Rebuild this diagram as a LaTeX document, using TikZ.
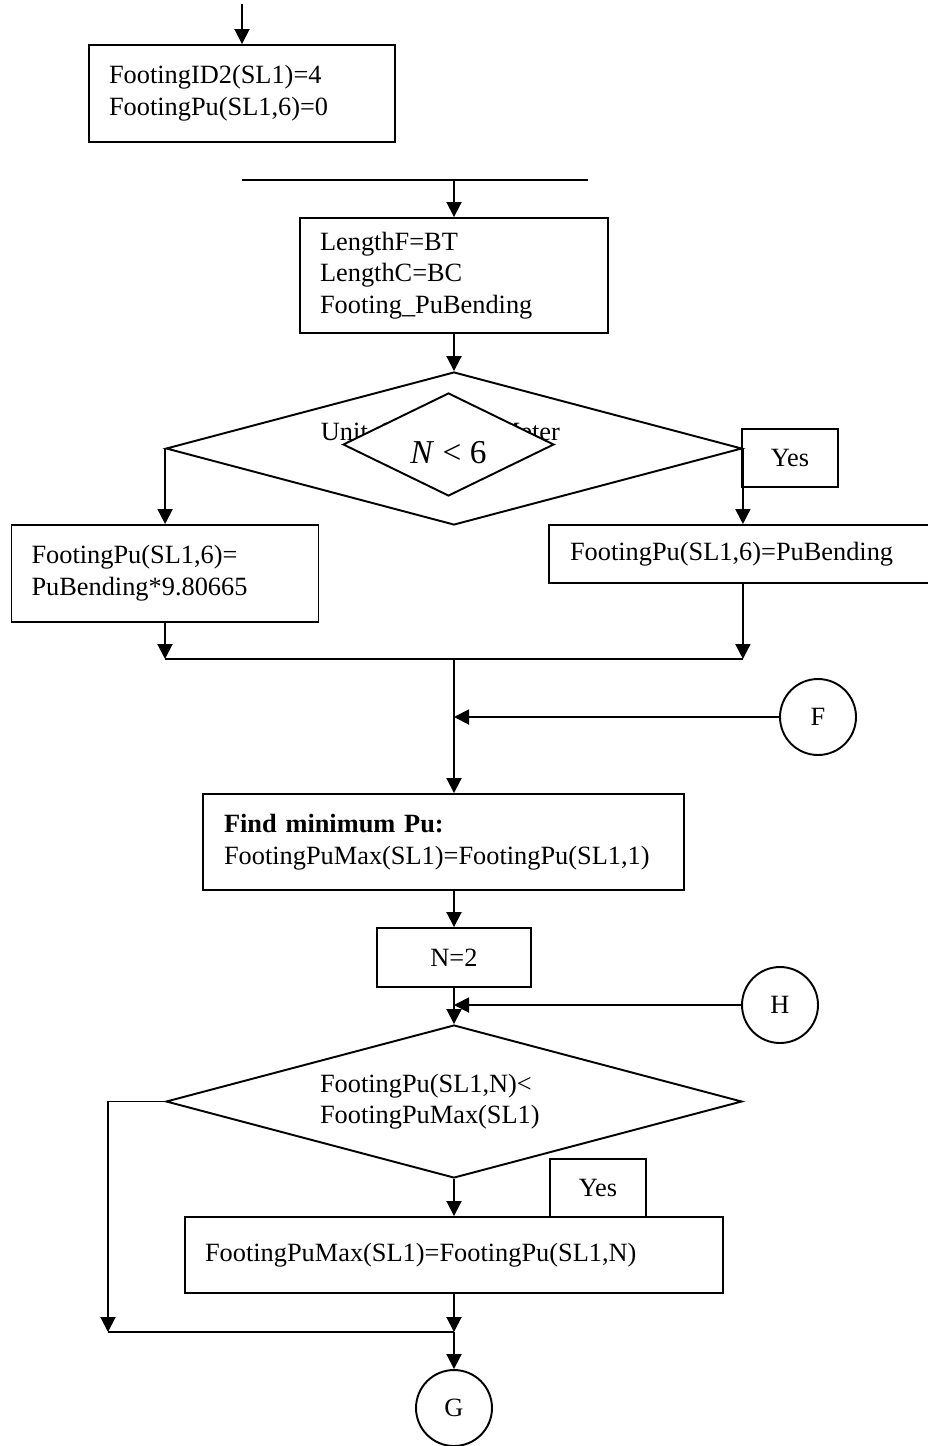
\documentclass[tikz,border=0pt]{standalone}
\usepackage{fontspec}
\setmainfont{Liberation Serif}
\usetikzlibrary{shapes.geometric,arrows.meta}

\begin{document}
\begin{tikzpicture}[x=0.02cm, y=-0.02cm, line width=1.1pt,
    every node/.style={font=\fontsize{15}{18}\selectfont},
    caja/.style={draw, rectangle, align=left, inner xsep=0.4cm},
    decision/.style={draw, diamond, inner sep=0pt, aspect=3.76,
        minimum width=11.52cm, minimum height=3.06cm},
    conector/.style={draw, circle, minimum size=1.52cm, inner sep=0pt},
    flecha/.style={-{Triangle[length=0.3cm, width=0.3cm]}}]
    \useasboundingbox (0,0) rectangle (928,1446);

    % Entrada y primera caja
    \coordinate (entrada) at (242,4);
    \node[caja, text width=5.32cm, minimum height=1.94cm] (ident) at (242,93.5) {FootingID2(SL1)=4\\FootingPu(SL1,6)=0};

    % Linea de union y longitudes
    \coordinate (unionI) at (242,180);
    \coordinate (unionD) at (588,180);
    \node[caja, text width=5.36cm, minimum height=2.3cm] (longs) at (454,275.5) {LengthF=BT\\LengthC=BC\\Footing\_PuBending};

    % Decision de unidades (texto tapado por el rombo pequeno)
    \node[decision] (unidad) at (454,448.5) {};
    \node[anchor=base west, inner sep=0pt] (unidadTxt) at (320,440) {\makebox[4.78cm][s]{Unit System = Meter}};
    \node[draw, diamond, fill=white, inner sep=0pt, aspect=2, minimum width=4.22cm, minimum height=2.06cm,
        text height=22pt, text depth=0pt, font=\fontsize{19}{22}\selectfont] (ncond) at (448.5,444.5) {\textit{N} < 6};
    \node[caja, align=center, inner xsep=0pt, minimum width=1.92cm, minimum height=1.16cm] (si1) at (790,458) {Yes};

    % Ramas
    \node[caja, text width=5.34cm, minimum height=1.94cm] (puSI) at (165,573.5) {FootingPu(SL1,6)=\\PuBending*9.80665};
    \node[caja, text width=7.16cm, inner xsep=0.42cm, minimum height=1.16cm] (puBend) at (749,554) {FootingPu(SL1,6)=PuBending};

    % Conectores F, H y G
    \node[conector] (conF) at (818,717) {F};
    \node[conector] (conH) at (780,1005) {H};
    \node[conector] (conG) at (454,1408) {G};

    % Busqueda del minimo
    \node[caja, text width=8.78cm, inner xsep=0.42cm, minimum height=1.92cm] (buscaMin) at (443.5,842) {\textbf{Find minimum Pu:}\\FootingPuMax(SL1)=FootingPu(SL1,1)};
    \node[caja, align=center, minimum width=3.08cm, minimum height=1.18cm] (nDos) at (454,957.5) {N=2};
    \node[decision, text width=5.36cm, align=left] (compara) at (454,1101.5) {FootingPu(SL1,N)<\\FootingPuMax(SL1)};
    \node[caja, align=center, inner xsep=0pt, minimum width=1.92cm, minimum height=1.16cm] (si2) at (598,1188) {Yes};
    \node[caja, text width=9.96cm, minimum height=1.52cm] (actualiza) at (454,1255) {FootingPuMax(SL1)=FootingPu(SL1,N)};

    % Flechas
    \coordinate (juntaM) at (454,659);
    \coordinate (juntaG) at (454,1332);
    \coordinate (noFin) at (108,1332);
    \draw[flecha] (entrada) -- (ident);
    \draw (unionI) -- (unionD);
    \draw[flecha] (unionI -| longs.north) -- (longs);
    \draw[flecha] (longs) -- (unidad);
    \draw[flecha] (unidad.west) -- (unidad.west |- puSI.north);
    \draw[flecha] (unidad.east) -- (unidad.east |- puBend.north);
    \draw[flecha] (puSI) -- (puSI |- juntaM);
    \draw[flecha] (puBend.south -| unidad.east) -- (juntaM -| unidad.east);
    \draw (juntaM -| puSI) -- (juntaM -| unidad.east);
    \draw[flecha] (juntaM) -- (juntaM |- buscaMin.north);
    \draw[flecha] (conF) -- (conF -| juntaM);
    \draw[flecha] (juntaM |- buscaMin.south) -- (nDos);
    \draw[flecha] (nDos) -- (compara);
    \draw[flecha] (conH) -- (conH -| nDos);
    \draw[flecha] (compara) -- (actualiza);
    \draw[flecha] (compara.west) -| (noFin);
    \draw (noFin) -- (juntaG);
    \draw[flecha] (actualiza) -- (juntaG);
    \draw[flecha] (juntaG) -- (conG);
\end{tikzpicture}
\end{document}
